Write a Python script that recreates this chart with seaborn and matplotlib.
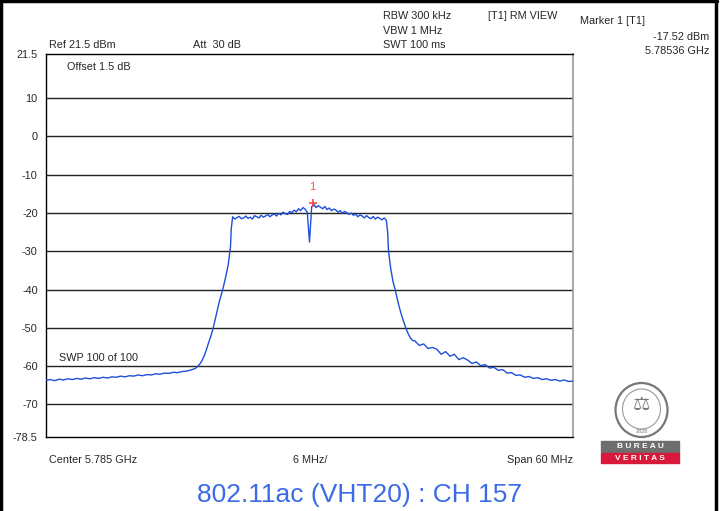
import numpy as np
import pandas as pd
import seaborn as sns
import matplotlib.pyplot as plt
from matplotlib.patches import Rectangle, Ellipse
from matplotlib.lines import Line2D

# spectrum trace, frequency offset from centre (MHz) and level (dBm)
floor_left_mhz = np.arange(-30.0, -13.0, 0.5)
floor_left_dbm = [-63.7, -63.5, -63.8, -63.4, -63.6, -63.3, -63.5, -63.2, -63.4, -63.1,
                  -63.3, -63.0, -63.2, -62.9, -63.1, -62.8, -62.9, -62.6, -62.8, -62.5,
                  -62.6, -62.3, -62.5, -62.2, -62.3, -62.0, -62.1, -61.8, -61.9, -61.6,
                  -61.7, -61.4, -61.3, -61.0]

edge_left_mhz = [-13.0, -12.75, -12.5, -12.25, -12.0, -11.75, -11.5, -11.25, -11.0,
                 -10.75, -10.5, -10.25, -10.0, -9.75, -9.5, -9.25, -9.0, -8.9]
edge_left_dbm = [-60.6, -60.1, -59.5, -58.6, -57.4, -55.8, -54.0, -52.3, -50.4,
                 -48.0, -45.5, -43.0, -41.0, -38.8, -36.3, -33.5, -29.0, -24.0]

plateau_mhz = np.arange(-8.75, 8.76, 0.25)
plateau_dbm = [-21.0, -21.6, -21.2, -20.9, -21.5, -21.3, -20.8, -21.4, -21.1, -21.6,
               -20.7, -21.0, -21.3, -20.6, -21.1, -20.8, -20.4, -21.0, -20.5, -20.3,
               -20.8, -20.1, -20.5, -19.8, -20.2, -20.4, -19.6, -19.9, -19.3, -19.7,
               -18.9, -19.4, -18.6, -19.0, -19.8, -27.6, -18.4, -17.7, -18.6, -18.1,
               -18.5, -18.9, -18.3, -19.1, -18.7, -19.4, -19.0, -19.2, -19.8, -19.4,
               -20.1, -19.6, -19.9, -20.4, -20.0, -20.6, -20.3, -21.0, -20.5, -20.8,
               -21.3, -20.7, -21.2, -21.5, -20.9, -21.6, -21.1, -21.4, -21.8, -21.3,
               -21.9]

edge_right_mhz = [8.9, 9.0, 9.25, 9.5, 9.75, 10.0, 10.25, 10.5, 10.75, 11.0, 11.25, 11.5, 11.75]
edge_right_dbm = [-25.0, -30.0, -34.5, -37.8, -40.0, -42.5, -44.8, -46.8, -48.6, -50.2,
                  -51.6, -52.7, -53.3]

floor_right_mhz = np.arange(12.0, 30.01, 0.5)
floor_right_dbm = [-53.4, -54.6, -54.2, -55.4, -55.1, -55.6, -56.9, -56.2, -57.4, -56.9,
                   -58.3, -57.8, -58.4, -59.3, -58.9, -59.9, -59.6, -60.5, -60.3, -61.1,
                   -60.9, -61.8, -61.7, -62.4, -62.3, -62.9, -62.7, -63.2, -63.0, -63.5,
                   -63.3, -63.7, -63.5, -63.9, -63.6, -64.0, -63.9]

marker_mhz = 0.36
marker_dbm = -17.52

y_ticks = [21.5, 10, 0, -10, -20, -30, -40, -50, -60, -70, -78.5]
y_tick_labels = ["21.5", "10", "0", "-10", "-20", "-30", "-40", "-50", "-60", "-70", "-78.5"]
grid_levels = [10, 0, -10, -20, -30, -40, -50, -60, -70]

freq = np.concatenate([floor_left_mhz, edge_left_mhz, plateau_mhz, edge_right_mhz, floor_right_mhz])
level = np.concatenate([floor_left_dbm, edge_left_dbm, plateau_dbm, edge_right_dbm, floor_right_dbm])
trace = pd.DataFrame({"freq": freq, "level": level})

sns.set_style("white")
plt.rcParams['font.family'] = ['Liberation Sans', 'DejaVu Sans']
FS = 7.8

fig = plt.figure(figsize=(7.24, 5.11), dpi=100)
ax = fig.add_axes([0.0635, 0.1448, 0.7279, 0.7495])

for g in grid_levels:
    ax.axhline(g, color="#222222", lw=1.0, zorder=1)

sns.lineplot(data=trace, x="freq", y="level", ax=ax, color="#1d4fd8", lw=1.0,
             sort=False, zorder=3)

ax.plot([marker_mhz], [marker_dbm], marker="+", color="#ff4444", ms=6, mew=1.2, zorder=4)
ax.text(marker_mhz, marker_dbm + 4.4, "1", color="#ff5533", fontsize=8,
        ha="center", va="center")

ax.set_xlim(-30, 30)
ax.set_ylim(-78.5, 21.5)
ax.set_xticks(np.arange(-30, 30.1, 6))
ax.set_xticklabels([])
ax.set_yticks(y_ticks)
ax.set_yticklabels(y_tick_labels, fontsize=FS)
ax.tick_params(axis="both", direction="out", length=4, width=0.8, color="black")
ax.tick_params(axis="y", pad=2)
ax.set_xlabel("")
ax.set_ylabel("")
for s in ["left", "bottom", "top"]:
    ax.spines[s].set_color("black")
    ax.spines[s].set_linewidth(1.0)
ax.spines["right"].set_color("#999999")
ax.spines["right"].set_linewidth(1.2)

ax.text(0.04, 0.965, "Offset 1.5 dB", transform=ax.transAxes, fontsize=FS, va="center")
ax.text(0.025, 0.205, "SWP 100 of 100", transform=ax.transAxes, fontsize=FS, va="center")


# header and footer annotations (figure coords from pixels)
def px(x, y):
    return (x / 724, 1 - y / 511)


def ftxt(x, y, s, **kw):
    fig.text(*px(x, y), s, fontsize=FS, va="center", **kw)


ftxt(49, 45, "Ref 21.5 dBm")
ftxt(193, 45, "Att  30 dB")
ftxt(383, 16, "RBW 300 kHz")
ftxt(383, 31, "VBW 1 MHz")
ftxt(383, 45, "SWT 100 ms")
ftxt(488, 16, "[T1] RM VIEW")
ftxt(580, 21, "Marker 1 [T1]")
ftxt(709, 37, "-17.52 dBm", ha="right")
ftxt(709, 51, "5.78536 GHz", ha="right")
ftxt(49, 460, "Center 5.785 GHz")
ftxt(310, 460, "6 MHz/", ha="center")
ftxt(573, 460, "Span 60 MHz", ha="right")

fig.text(*px(360, 495), "802.11ac (VHT20) : CH 157", fontsize=19,
         color="#3b6be6", ha="center", va="center")

# simple Bureau Veritas badge
fig.patches.append(Ellipse(px(641.5, 410), 52 / 724, 54 / 511, transform=fig.transFigure,
                           fill=False, ec="#777777", lw=1.6))
fig.patches.append(Ellipse(px(641.5, 409), 38 / 724, 40 / 511, transform=fig.transFigure,
                           fill=False, ec="#9a9a9a", lw=0.8))
fig.text(*px(641.5, 406), "⚖", fontsize=14, color="#777777", ha="center", va="center")
fig.text(*px(641.5, 431), "1828", fontsize=4, color="#777777", ha="center", va="center")
fig.patches.append(Rectangle(px(601, 452), 78 / 724, 11 / 511, transform=fig.transFigure,
                             color="#6e6e6e"))
fig.patches.append(Rectangle(px(601, 463), 78 / 724, 10 / 511, transform=fig.transFigure,
                             color="#d9193a"))
fig.text(*px(640, 446.5), "B U R E A U", fontsize=6, color="white", ha="center", va="center",
         fontweight="bold")
fig.text(*px(640, 458), "V E R I T A S", fontsize=6, color="white", ha="center", va="center",
         fontweight="bold")

# outer frame of the screenshot
fig.add_artist(Line2D([0.001, 0.001], [0, 1], transform=fig.transFigure, color="black", lw=2.5))
fig.add_artist(Line2D([0, 717 / 724], [0.998, 0.998], transform=fig.transFigure, color="black", lw=2.5))
fig.add_artist(Line2D([716 / 724, 716 / 724], [0, 1], transform=fig.transFigure, color="black", lw=2.5))

fig.savefig("out.png", dpi=100)
